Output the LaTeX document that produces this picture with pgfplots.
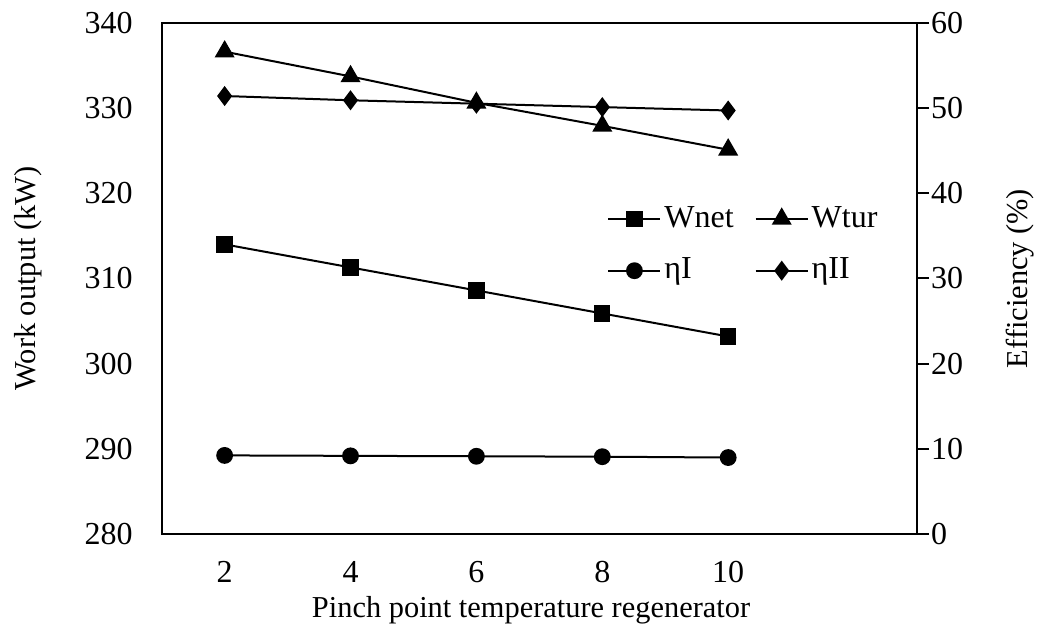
\documentclass[border=0pt]{standalone}
\usepackage{fontspec}
\setmainfont{Liberation Serif}
\usepackage{pgfplots}
\pgfplotsset{compat=1.18}
\begin{document}
\fontsize{16}{19}\selectfont
\begin{tikzpicture}
\pgfplotsset{
  every axis/.append style={
    scale only axis, width=377.65pt, height=255.8pt,
    xmin=1, xmax=13,
    font=\fontsize{16}{19}\selectfont,
    /pgf/number format/assume math mode=true,
    axis line style={line width=1pt, black},
    every tick/.style={black, line width=1pt},
  },
  legend image code/.code={\draw[mark repeat=2,mark phase=2,#1] plot coordinates {(0pt,0pt) (13pt,0pt) (26pt,0pt)};},
}
\begin{axis}[name=ax,
  ymin=280, ymax=340, ytick={280,290,...,340},
  xtick={2,4,6,8,10},
  ytick pos=left, xtick pos=bottom,
  major tick length=0pt,
  yticklabel style={xshift=-9pt},
  xticklabel style={yshift=-8pt},
  xlabel={Pinch point temperature regenerator},
  ylabel={Work output (kW)},
  every axis x label/.style={at={(axis description cs:0.489,-0.148)}, anchor=center, font=\fontsize{15.2}{18}\selectfont},
  every axis y label/.style={at={(axis description cs:-0.177,0.5)}, rotate=90, anchor=center, font=\fontsize{15.2}{18}\selectfont},
]
\addplot[black, line width=1pt, mark=square*, mark size=3.6pt, mark options={solid}] coordinates {
(2,314.0) (4,311.3) (6,308.6) (8,305.9) (10,303.2)};
\addplot[black, line width=1pt, mark=triangle*, mark size=4.8pt, mark options={solid}] coordinates {
(2,336.6) (4,333.7) (6,330.6) (8,327.9) (10,325.1)};
\end{axis}
\begin{axis}[
  ymin=0, ymax=60, ytick={0,10,...,60},
  axis x line=none, axis y line*=right,
  ytick pos=right,
  tick align=outside, major tick length=6pt,
  yticklabel style={xshift=-4.5pt},
  ylabel={Efficiency (\%)},
  every axis y label/.style={at={(axis description cs:1.1364,0.5)}, rotate=90, anchor=center, font=\fontsize{15.2}{18}\selectfont},
  legend columns=2,
  legend style={at={(axis description cs:0.5896,0.5658)}, anchor=west, draw=none, fill=none,
    inner sep=0pt, nodes={inner sep=1.5pt, anchor=west},
    /tikz/column 2/.style={column sep=9pt},
    /tikz/row sep=10pt},
]
\addlegendimage{black, line width=1pt, mark=square*, mark size=3.6pt}
\addlegendentry{Wnet}
\addlegendimage{black, line width=1pt, mark=triangle*, mark size=4.8pt}
\addlegendentry{Wtur}
\addplot[black, line width=1pt, mark=*, mark size=3.7pt] coordinates {
(2,9.25) (4,9.2) (6,9.15) (8,9.1) (10,9.0)};
\addlegendentry{ηI}
\addplot[black, line width=1pt, mark=diamond*, mark size=4.2pt] coordinates {
(2,51.4) (4,50.9) (6,50.5) (8,50.1) (10,49.7)};
\addlegendentry{ηII}
\end{axis}
\pgfresetboundingbox
\useasboundingbox ([xshift=-80.85pt,yshift=-52.35pt]ax.south west) rectangle ([xshift=63pt,yshift=11.35pt]ax.north east);
\end{tikzpicture}
\end{document}
